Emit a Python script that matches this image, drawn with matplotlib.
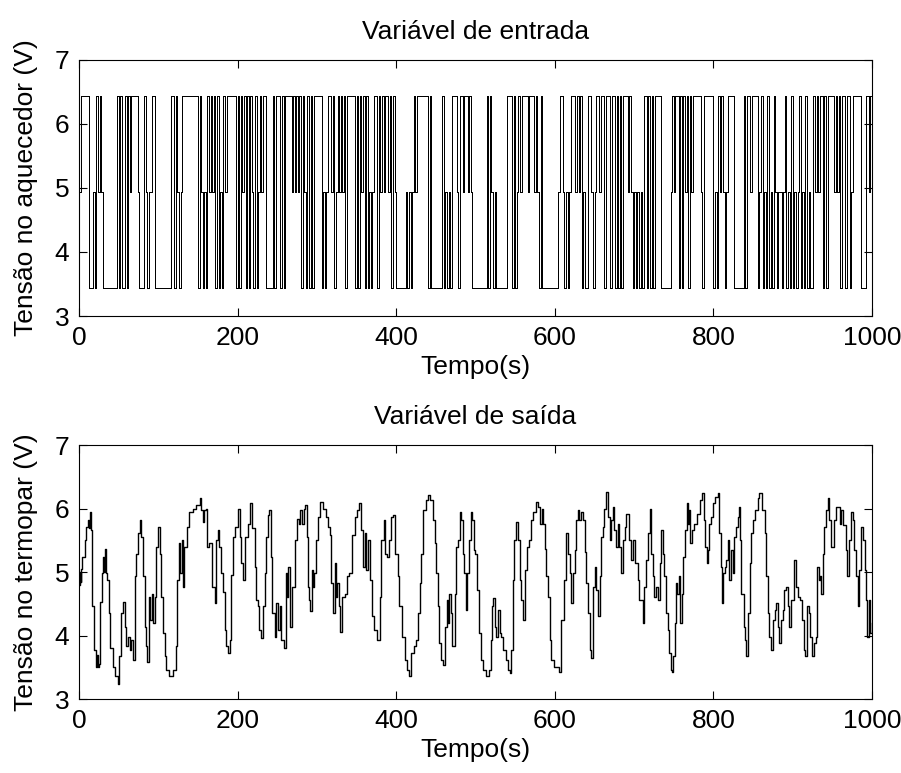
import numpy as np
import matplotlib.pyplot as plt

plt.rcParams['font.family'] = ['Liberation Sans', 'DejaVu Sans']

# input: heater voltage level read every 2 s (L / M / H), one string per 100 s
level_codes = ['L', 'M', 'H']
level_values = [3.44, 4.94, 6.44]
u_blocks = [
    "MHHHHHLLLMLHMHMLLLLLLLLLHLHLLHLHMHHHHMLLLHMLMMHHLL",
    "LLLLLLLLHHLHMLMHHHHHHHHHHLHMLMLHMHMHLHLMLHMHHHHHHL",
    "HLHMHLHLHMLHLMHMHHLLLLHLHHHLHLHHHHMHMHMHLHMLHLHLHH",
    "HHHLMLMHHMHLMHMHMHLHHHHHLHLHMHLHLMLMHHLHMHMHHMHLHM",
    "LLLLLLMLMLMHMHHHHHHHLHLLLLLLLHLMLMLHHHMLHHMHHMHMLL",
    "LLLLLLLHLHMLMLLLLLLLHHHLHLMHMHHHHMHHHMHMLHLLLLLLLL",
    "LLMHHMLMLMHHHMHMHLMLLHHMLMHHMHHLHHHLHHLHLHLHHHMHML",
    "MLMLMLHHLHLHLHHHHLLLLLLMHMHHLHLHMHLHMHHHHHMLHHHHHH",
    "LMLHMHMLMHHHHLLLLLLHLHHMHHHHLMHLMLHLMLHMLMMLMHLMLH",
    "LMLMHLMLHLMLLHMHMHHLHLHHHHMHMHLHHLHHLMHHHHHLLLHHMH",
]
u_step = 2

# output: thermocouple voltage, time (s) and value (V)
out_t = [
    0, 1, 2, 3, 4, 7, 9, 11, 12, 13.5,
    15.5, 17, 19.5, 22, 22.5, 23.5, 25, 27, 29, 30,
    31, 32.5, 33.5, 35, 38, 39.5, 43, 46, 49, 51,
    53.5, 55.5, 57.5, 59.5, 62, 64, 66, 68, 70, 72,
    74.5, 76.5, 78.5, 80.5, 83, 85, 86, 88, 90, 91.5,
    93, 95.5, 97.5, 99.5, 101.5, 104, 106, 108, 110, 114,
    118.5, 122, 123, 126, 127.5, 129.5, 131, 133, 136, 138.5,
    143.5, 148, 152, 154, 156, 158, 160, 162, 164.5, 168,
    171, 173, 175, 177, 179.5, 181.5, 183.5, 185.5, 188, 190,
    192, 194, 197, 200.5, 202.5, 204.5, 206.5, 209, 213, 215,
    218.5, 221.5, 223.5, 225.5, 227.5, 229, 232, 234, 236, 238,
    239.5,
    241.5, 243.5, 246.5, 248.5, 251, 253, 255, 258, 260.5, 262,
    264, 266.5, 269, 272, 275, 277.5, 279, 281.5, 283.5, 285.5,
    287.5, 289, 290.5, 291.5, 293.5, 295, 296.5, 298.5, 301.5, 304,
    307.5, 311, 314, 316, 318, 320, 322.5, 324, 325.5, 327.5,
    329.5, 332, 335, 338, 341, 344.5, 347.5, 350.5, 353, 356,
    358, 360, 362, 364.5, 367, 369.5, 372.5, 375.5, 379, 381,
    384, 385.5, 388, 391, 393.5, 396, 398, 402, 404, 407,
    410.5, 413.5, 416, 419, 422, 425, 427.5, 429.5, 431.5, 433.5,
    437, 440, 443, 446, 448.5, 450.5, 452.5, 454.5, 456.5, 459.5,
    462, 463.5, 465, 466.5, 468.5, 470.5, 473.5, 475.5, 477.5, 480,
    482, 484, 486, 488, 489.5, 491.5,
    494.5, 496, 497.5, 499, 501.5, 504, 507, 510, 513.5, 517,
    519.5, 521, 522.5, 524.5, 526, 528, 530.5, 532.5, 534.5, 538,
    541, 543.5, 545, 547, 549, 551.5, 553.5, 555.5, 557.5, 559.5,
    562, 564.5, 567, 570, 573, 576.5, 578.5, 581.5, 584, 585.5,
    587, 589, 591, 593.5, 595.5, 599.5, 605, 608, 611, 613.5,
    614.5, 616.5, 618.5, 620.5, 622.5, 625, 627, 629, 631, 633,
    635.5, 637.5, 639.5, 641.5, 644.5, 646, 648, 650, 652, 654,
    656.5, 658.5, 660.5, 662.5, 664.5, 667, 669, 671, 673, 675,
    677.5, 679.5, 681.5, 683.5, 685.5, 688, 690, 693.5, 696, 698.5,
    701.5, 704.5, 706.5, 711, 713, 715, 717, 719.5, 721.5, 723.5,
    725.5, 727.5, 730, 732, 734, 736, 738, 740.5, 742.5, 744.5,
    746.5, 748, 749.5, 751, 753, 754.5, 756.5, 758, 760.5, 762,
    764.5, 766.5, 768, 769, 770.5, 773, 776, 779, 782.5, 785.5,
    787.5, 789.5, 791.5, 793, 794, 797, 799, 802.5, 805.5, 807.5,
    809.5, 811, 812.5, 814, 816, 818, 820, 822.5, 824.5, 826.5,
    828.5, 830.5, 832, 833.5, 835, 838, 839.5, 841, 843.5, 845.5,
    847.5, 849.5, 853, 856, 858, 861.5, 864.5, 866.5, 868.5, 870.5,
    872.5, 875, 877, 879, 881, 883, 885.5, 887.5, 889.5, 891.5,
    893.5, 895, 898, 901, 902, 904, 906.5, 909, 912, 914.5,
    916, 917.5, 920, 922, 924.5, 926.5, 929.5, 930.5, 933, 934.5,
    936, 938, 940, 942, 944, 946, 948.5, 951.5, 954.5, 956.5,
    959, 961, 963, 966.5, 968, 971.5, 973.5, 975.5, 977.5, 980,
    982, 984, 986, 988, 990.5, 992.5, 994, 995.5, 996.5, 998,
    1000,
]
out_v = [
    4.80, 5.00, 4.85, 5.05, 5.24, 5.50, 5.71, 5.82, 5.70, 5.95,
    5.66, 4.46, 3.77, 3.51, 3.70, 3.50, 3.55, 4.53, 4.98, 5.24,
    5.00, 5.37, 4.98, 4.87, 4.35, 3.80, 3.51, 3.36, 3.23, 3.67,
    4.35, 4.53, 4.14, 3.83, 3.98, 3.77, 3.93, 3.62, 4.93, 5.29,
    5.61, 5.82, 5.55, 4.93, 4.14, 3.83, 3.59, 4.61, 4.25, 4.66,
    4.19, 4.61, 5.40, 5.71, 5.29, 4.61, 4.04, 3.67, 3.46, 3.36,
    3.46, 3.83, 4.87, 5.45, 4.98, 5.50, 4.77, 5.40, 5.71, 5.95,
    6.00, 6.05, 6.17, 5.97, 5.79, 5.97, 6.00, 5.40, 5.45, 4.77,
    4.51, 5.50, 5.66, 5.40, 4.98, 4.69, 4.09, 3.83, 3.72, 3.93,
    4.95, 5.55, 5.71, 6.00, 5.55, 5.14, 4.87, 5.55, 5.76, 6.08,
    5.69, 5.08, 4.56, 4.46, 4.09, 3.96, 4.46, 4.98, 5.55, 5.90,
    5.97,
    5.24, 4.35, 3.98, 4.51, 4.09, 4.46, 3.93, 3.80, 4.98, 4.61,
    5.08, 4.14, 4.77, 5.50, 5.84, 5.76, 5.97, 5.76, 6.00, 6.05,
    5.55, 4.77, 4.56, 4.38, 5.03, 4.77, 4.98, 5.50, 5.87, 6.10,
    6.00, 5.87, 5.71, 5.58, 4.82, 4.35, 5.14, 4.61, 4.82, 4.46,
    4.06, 4.61, 4.66, 4.93, 4.98, 5.58, 5.87, 5.97, 6.08, 5.66,
    5.08, 5.61, 5.03, 5.50, 4.87, 4.30, 4.09, 3.93, 4.61, 5.50,
    5.82, 5.29, 5.24, 5.50, 5.87, 5.90, 5.29, 4.93, 4.46, 3.98,
    3.62, 3.46, 3.36, 3.72, 3.83, 3.93, 4.35, 4.82, 5.29, 5.97,
    6.13, 6.21, 6.13, 5.82, 5.45, 4.98, 4.46, 3.88, 3.62, 3.54,
    4.14, 4.56, 4.19, 4.66, 4.35, 3.83, 4.66, 5.40, 5.50, 5.95,
    5.82, 5.29, 4.98, 4.40, 4.98, 5.50,
    5.95, 5.82, 5.35, 5.29, 4.72, 4.04, 3.62, 3.46, 3.36, 3.46,
    3.93, 4.46, 4.59, 4.14, 3.98, 4.40, 4.04, 3.98, 3.77, 3.62,
    3.46, 3.41, 3.77, 4.87, 5.50, 5.79, 5.50, 4.87, 4.56, 4.25,
    5.03, 5.40, 5.50, 5.82, 5.95, 6.10, 6.03, 5.76, 6.00, 5.76,
    5.37, 4.93, 4.61, 3.93, 3.62, 3.51, 3.43, 4.25, 4.87, 5.29,
    5.61, 5.29, 4.98, 4.51, 4.98, 5.35, 5.82, 5.97, 5.82, 5.95,
    5.82, 5.32, 4.82, 4.35, 3.77, 3.64, 4.77, 5.08, 4.72, 4.30,
    4.93, 5.55, 5.71, 6.00, 6.26, 5.87, 5.50, 5.82, 6.03, 5.66,
    5.40, 5.76, 5.40, 4.98, 5.50, 5.71, 5.92, 5.50, 5.19, 5.50,
    5.14, 4.87, 4.56, 4.19, 4.77, 5.19, 5.61, 6.00, 5.29, 4.93,
    4.61, 4.77, 4.56, 5.14, 5.66, 5.29, 4.93, 4.35, 4.09, 3.72,
    3.46, 3.43, 3.67, 4.19, 4.82, 4.66, 4.93, 4.19, 4.66, 5.24,
    5.66, 6.08, 5.76, 5.97, 5.45, 5.66, 5.76, 5.92, 6.13, 6.24,
    5.82, 5.40, 5.14, 5.35, 5.76, 5.87, 6.08, 6.18, 6.24, 5.61,
    5.08, 4.51, 4.98, 5.08, 5.19, 5.50, 4.87, 5.35, 4.98, 5.55,
    5.71, 5.87, 6.03, 5.50, 4.66, 4.14, 3.93, 3.67, 4.35, 5.14,
    5.61, 5.82, 5.97, 6.16, 6.24, 5.97, 5.61, 4.93, 4.35, 3.98,
    3.77, 4.25, 4.40, 4.51, 4.14, 3.88, 4.25, 4.40, 4.72, 4.77,
    4.46, 4.14, 4.56, 4.98, 5.19, 4.77, 4.61, 4.56, 4.25, 3.77,
    3.67, 4.46, 4.35, 3.98, 3.67, 3.88, 3.98, 5.08, 4.87, 4.93,
    4.66, 5.29, 5.71, 5.97, 6.16, 5.82, 5.40, 5.82, 6.03, 6.03,
    5.76, 5.97, 5.74, 5.35, 4.93, 5.50, 5.95, 5.82, 5.35, 4.93,
    4.46, 5.03, 5.71, 5.50, 5.03, 4.56, 3.98, 4.35, 4.56, 4.04,
    4.20,
]

level_of = dict(zip(level_codes, level_values))
u_code = "".join(u_blocks)
u_v = [level_of[c] for c in u_code]
u_t = np.arange(len(u_v)) * u_step
u_t = np.append(u_t, 1000)
u_v = np.append(u_v, u_v[-1])

fig = plt.figure(figsize=(9.01, 7.73), dpi=100)
ax1 = fig.add_axes([0.0877, 0.5912, 0.8802, 0.3312])
ax2 = fig.add_axes([0.0877, 0.0957, 0.8802, 0.3286])

ax1.step(u_t, u_v, where='post', color='black', linewidth=0.72, antialiased=False)
ax2.step(out_t, out_v, where='post', color='black', linewidth=1.0)

titles = ['Variável de entrada', 'Variável de saída']
ylabels = ['Tensão no aquecedor (V)', 'Tensão no termopar (V)']

for ax, title, ylab in zip([ax1, ax2], titles, ylabels):
    ax.set_xlim(0, 1000)
    ax.set_ylim(3, 7)
    ax.set_xticks([0, 200, 400, 600, 800, 1000])
    ax.set_yticks([3, 4, 5, 6, 7])
    ax.tick_params(direction='in', length=6, width=0.8, top=True, right=True,
                   labelsize=19, pad=7, colors='black')
    for s in ax.spines.values():
        s.set_linewidth(0.8)
    ax.set_title(title, fontsize=19, pad=15)
    ax.set_xlabel('Tempo(s)', fontsize=19, labelpad=4)
    ax.set_ylabel(ylab, fontsize=19, labelpad=12)

fig.savefig('out.png', dpi=100, facecolor='white')
